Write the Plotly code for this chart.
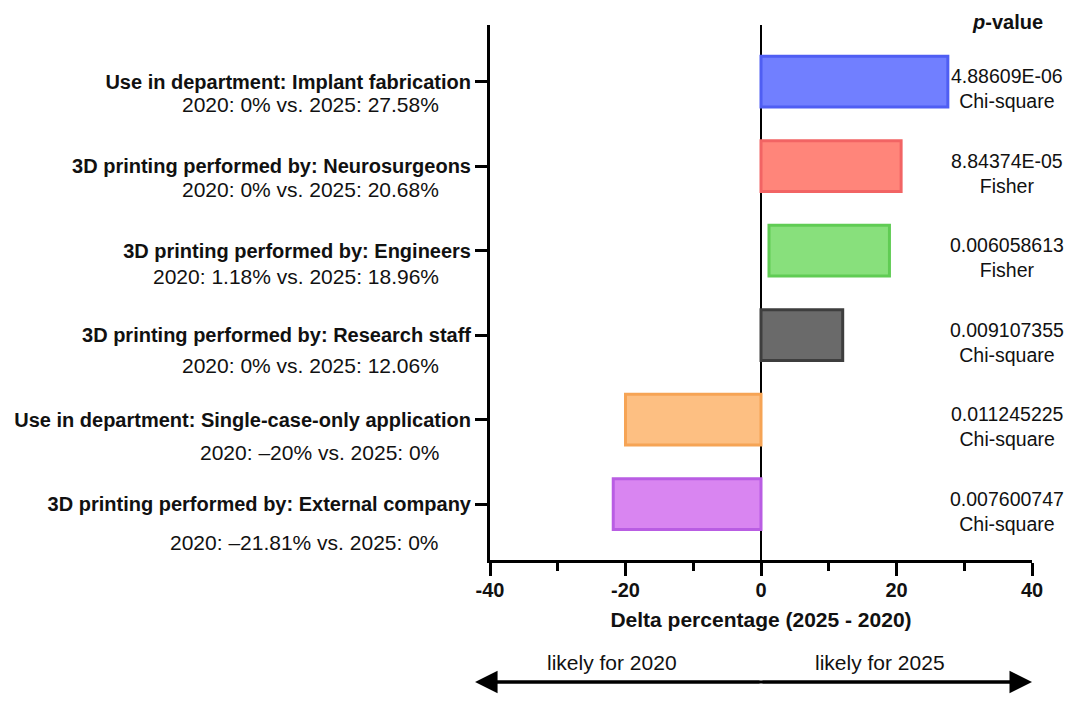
import plotly.graph_objects as go

categories = [
    "Use in department: Implant fabrication",
    "3D printing performed by: Neurosurgeons",
    "3D printing performed by: Engineers",
    "3D printing performed by: Research staff",
    "Use in department: Single-case-only application",
    "3D printing performed by: External company",
]
subtitles = [
    "2020: 0% vs. 2025: 27.58%",
    "2020: 0% vs. 2025: 20.68%",
    "2020: 1.18% vs. 2025: 18.96%",
    "2020: 0% vs. 2025: 12.06%",
    "2020: \u201320% vs. 2025: 0%",
    "2020: \u201321.81% vs. 2025: 0%",
]
bar_start = [0, 0, 1.18, 0, -20, -21.81]
bar_end = [27.58, 20.68, 18.96, 12.06, 0, 0]
p_values = ["4.88609E-06", "8.84374E-05", "0.006058613", "0.009107355", "0.011245225", "0.007600747"]
tests = ["Chi-square", "Fisher", "Fisher", "Chi-square", "Chi-square", "Chi-square"]
x_ticks = [-40, -20, 0, 20, 40]

fills = ["#717FFF", "#FF857A", "#88E07C", "#6A6A6A", "#FDBF82", "#D985F1"]
borders = ["#4F5EF3", "#F26464", "#60CC54", "#3E3E3E", "#F6A455", "#B95DE3"]
sub_offsets = [-23, -23, -26, -30, -33, -38]

FONT = "Liberation Sans, Arial, Helvetica, sans-serif"

fig = go.Figure()
ypos = list(range(len(categories)))
fig.add_trace(go.Bar(
    y=ypos,
    x=[e - s for s, e in zip(bar_start, bar_end)],
    base=bar_start,
    orientation="h",
    width=0.6,
    marker=dict(color=fills, line=dict(color=borders, width=3)),
    showlegend=False,
    hoverinfo="skip",
))

annotations = []
for i, (sub, pv, t) in enumerate(zip(subtitles, p_values, tests)):
    annotations.append(dict(
        x=-0.09, xref="paper", y=i, yref="y", text=sub, showarrow=False,
        xanchor="right", yanchor="middle", yshift=sub_offsets[i],
        font=dict(family=FONT, size=21, color="#111"),
    ))
    annotations.append(dict(
        x=0.954, xref="paper", y=i, yref="y", text=pv + "<br>" + t, showarrow=False,
        xanchor="center", yanchor="middle", yshift=-7,
        font=dict(family=FONT, size=19.5, color="#111"),
    ))

annotations.append(dict(
    x=0.954, xref="paper", y=1.005, yref="paper", text="<b><i>p</i>-value</b>",
    showarrow=False, xanchor="center", yanchor="middle",
    font=dict(family=FONT, size=20, color="#111"),
))
# bottom double arrow heads
for end in (40, -42.2):
    annotations.append(dict(
        x=end, xref="x", y=-0.228, yref="paper", ax=0, axref="x", ay=0, ayref="pixel",
        text="", showarrow=True, arrowhead=2, arrowsize=1.5, arrowwidth=3, arrowcolor="black",
    ))
annotations.append(dict(
    x=-22, xref="x", y=-0.192, yref="paper", text="likely for 2020", showarrow=False,
    xanchor="center", yanchor="middle", font=dict(family=FONT, size=21, color="#111"),
))
annotations.append(dict(
    x=17.5, xref="x", y=-0.192, yref="paper", text="likely for 2025", showarrow=False,
    xanchor="center", yanchor="middle", font=dict(family=FONT, size=21, color="#111"),
))

fig.add_shape(type="line", xref="x", yref="paper", x0=-41, x1=39, y0=-0.228, y1=-0.228,
              line=dict(color="black", width=3))

fig.update_layout(
    width=1080, height=706,
    margin=dict(l=482, r=56, t=17, b=154),
    paper_bgcolor="white", plot_bgcolor="white",
    font=dict(family=FONT, color="#111"),
    annotations=annotations,
    bargap=0.4,
)
fig.update_xaxes(
    range=[-40, 40], tickvals=x_ticks, ticktext=[f"<b>{v}</b>" for v in x_ticks],
    ticks="outside", ticklen=13, tickwidth=3, tickcolor="black",
    minor=dict(dtick=10, tick0=0, ticks="outside", ticklen=8, tickwidth=3, tickcolor="black", showgrid=False),
    showline=True, linewidth=3, linecolor="black",
    showgrid=False, zeroline=True, zerolinewidth=2, zerolinecolor="black",
    tickfont=dict(family=FONT, size=20, color="#111"),
    ticklabelstandoff=-3,
    title=dict(text="<b>Delta percentage (2025 - 2020)</b>", font=dict(family=FONT, size=21, color="#111"), standoff=13),
    fixedrange=True, automargin=False,
)
fig.update_yaxes(
    range=[5.66, -0.67], tickvals=ypos, ticktext=[f"<b>{c}</b>" for c in categories],
    ticks="outside", ticklen=12, tickwidth=3, tickcolor="black",
    showline=True, linewidth=3, linecolor="black",
    showgrid=False, zeroline=False,
    tickfont=dict(family=FONT, size=20, color="#111"),
    fixedrange=True, automargin=False,
)

fig.write_html("out.html")
